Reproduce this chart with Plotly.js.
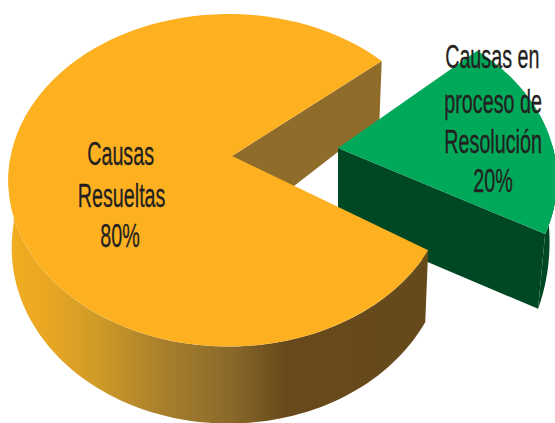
<!DOCTYPE html>
<html><head><meta charset="utf-8">
<script src="https://cdn.plot.ly/plotly-3.0.1.min.js"></script>
<style>html,body{margin:0;padding:0;background:#fff}#c{width:555px;height:423px}</style>
</head><body><div id="c"></div>
<script>
var categories = ["Causas Resueltas", "Causas en proceso de Resolución"];
var values = [80, 20];
var percentLabels = ["80%", "20%"];
var labelLinesA = ["Causas", "Resueltas", "80%"];
var labelLinesB = ["Causas en", "proceso de", "Resolución", "20%"];

var total = values[0] + values[1];
var sliceSpan = values[1] / total * 360;

// projection of the tilted discs into axis units
var big = {cx:228.5, cy:157, rx:218, ry:163, k:0.14, start:40, apex:[232,156], apexDrop:78, dropA:66, dropB:-11, shrink:0.985, shrinkAt:232};
var small = {cx:338, cy:148, rx:215, ry:161, k:0.19, start:43, apex:[338,148], apexDrop:76, dropA:54, dropB:-43, shrink:0.966, shrinkAt:338};

function rim(d, deg){
  var t = deg*Math.PI/180, u = Math.cos(t), v = Math.sin(t), w = 1 + d.k*v;
  return [d.cx + d.rx*u/w, d.cy - d.ry*v/w, v];
}
function low(d, p){
  return [d.shrinkAt + (p[0]-d.shrinkAt)*d.shrink, p[1] + d.dropA + d.dropB*p[2]];
}
function arc(d, from, to, lower){
  var n = 90, pts = [];
  for (var i=0;i<=n;i++){
    var p = rim(d, from + (to-from)*i/n);
    pts.push(lower ? low(d,p) : p);
  }
  return pts;
}
function poly(pts, color, grad){
  var t = {type:'scatter', mode:'none', fill:'toself', hoverinfo:'skip', showlegend:false,
    x:pts.map(function(p){return p[0]}), y:pts.map(function(p){return p[1]})};
  if (grad) t.fillgradient = grad; else t.fillcolor = color;
  return t;
}
function cutFace(d, deg){
  var p = rim(d,deg), q = low(d,p);
  return [d.apex, [p[0],p[1]], q, [d.apex[0], d.apex[1]+d.apexDrop]];
}
function topFace(d, from, span){
  return [d.apex].concat(arc(d, from, from+span, false));
}

var bigEnd = big.start - sliceSpan;
var smallEnd = small.start - sliceSpan;

var traces = [
  poly(cutFace(big, big.start), '#906C2A'),
  poly(arc(small, smallEnd, smallEnd+30, false).concat(arc(small, smallEnd, smallEnd+30, true).reverse()), '#004723'),
  poly(cutFace(small, smallEnd), '#004723'),
  poly(topFace(small, small.start, -sliceSpan), '#00A85A'),
  poly(arc(big, bigEnd, -180, false).concat(arc(big, bigEnd, -180, true).reverse()), null,
    {type:'horizontal', colorscale:[[0,'#F2AC20'],[0.1,'#E8A723'],[0.21,'#D09A28'],[0.37,'#A87F2D'],[0.53,'#8A692A'],[0.66,'#68491B'],[1,'#664A1C']]}),
  poly(topFace(big, big.start, 360-sliceSpan), '#FDB120')
];

var ann = [];
function addLines(lines, xs, ys){
  lines.forEach(function(s,i){
    ann.push({text:s, x:xs[i], y:ys[i], xref:'x', yref:'y', showarrow:false, xanchor:'center', yanchor:'middle',
      font:{family:'"Liberation Sans Narrow","Liberation Sans",sans-serif', size:34, color:'#231F20'}});
  });
}
addLines(labelLinesA, [120,121,120], [153,195,235]);
addLines(labelLinesB, [492,493,493,493], [56,101,141,180]);

var layout = {
  width:555, height:423, margin:{l:0,r:0,t:0,b:0},
  paper_bgcolor:'#fff', plot_bgcolor:'#fff', showlegend:false,
  xaxis:{range:[0,555], visible:false, fixedrange:true},
  yaxis:{range:[423,0], visible:false, fixedrange:true},
  annotations:ann
};
Plotly.newPlot('c', traces, layout, {displayModeBar:false, staticPlot:true}).then(function(){
  var scaleX = 0.58;
  document.querySelectorAll('#c .annotation-text').forEach(function(t){
    var b = t.getBBox(), c = b.x + b.width/2;
    t.setAttribute('transform','translate('+c+',0) scale('+scaleX+',1) translate('+(-c)+',0)');
    t.style.stroke = '#231F20';
    t.style.strokeWidth = '0.3px';
  });
});
</script></body></html>
